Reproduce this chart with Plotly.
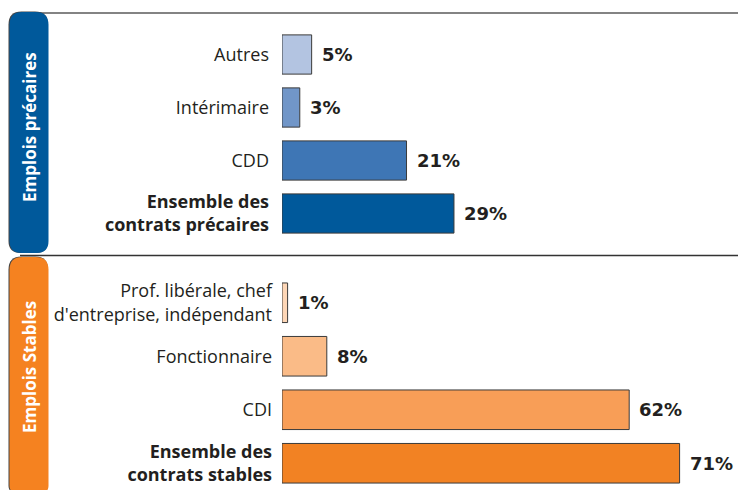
import plotly.graph_objects as go

W, H = 739, 490

prec_labels = ["Autres", "Intérimaire", "CDD", "<b>Ensemble des</b><br><b>contrats précaires</b>"]
prec_values = [5, 3, 21, 29]
prec_colors = ["#B3C4E1", "#7196C8", "#3E76B5", "#00599B"]

stab_labels = ["Prof. libérale, chef<br>d'entreprise, indépendant", "Fonctionnaire", "CDI",
               "<b>Ensemble des</b><br><b>contrats stables</b>"]
stab_values = [1, 8, 62, 71]
stab_colors = ["#FDD6B6", "#FABB87", "#F89E57", "#F28223"]

panel_titles = ["Emplois précaires", "Emplois Stables"]
panel_colors = ["#00599B", "#F58220"]

def px_x(p):
    return p / W

def px_y(p):
    return 1 - p / H

fig = go.Figure()

fig.add_trace(go.Bar(
    y=list(range(len(prec_values))), x=prec_values, orientation="h",
    marker=dict(color=prec_colors, line=dict(color="#3a3a3a", width=1)),
    width=0.74, xaxis="x", yaxis="y", hoverinfo="skip", showlegend=False))
fig.add_trace(go.Bar(
    y=list(range(len(stab_values))), x=stab_values, orientation="h",
    marker=dict(color=stab_colors, line=dict(color="#3a3a3a", width=1)),
    width=0.74, xaxis="x2", yaxis="y2", hoverinfo="skip", showlegend=False))

annotations = []
for i, v in enumerate(prec_values):
    annotations.append(dict(x=v, y=i, xref="x", yref="y", text=f"<b>{v}%</b>",
                            showarrow=False, xanchor="left", xshift=8,
                            font=dict(family="DejaVu Sans", size=18, color="#231F20")))
for i, v in enumerate(stab_values):
    annotations.append(dict(x=v, y=i, xref="x2", yref="y2", text=f"<b>{v}%</b>",
                            showarrow=False, xanchor="left", xshift=8,
                            font=dict(family="DejaVu Sans", size=18, color="#231F20")))

# panel titles (rotated)
title_centers = [(29, 127), (29, 367)]
for t, (cx, cy) in zip(panel_titles, title_centers):
    annotations.append(dict(x=px_x(cx), y=px_y(cy), xref="paper", yref="paper",
                            text=f"<b>{t}</b>", textangle=-90, showarrow=False,
                            font=dict(family="Open Sans", size=17, color="white"),
                            xanchor="center", yanchor="middle"))

def rrect(x0, y0, x1, y1, r, rb=None):
    rb = r if rb is None else rb
    X = lambda p: px_x(p)
    Y = lambda p: px_y(p)
    return (f"M {X(x0)},{Y(y0 + r)} Q {X(x0)},{Y(y0)} {X(x0 + r)},{Y(y0)} "
            f"L {X(x1 - r)},{Y(y0)} Q {X(x1)},{Y(y0)} {X(x1)},{Y(y0 + r)} "
            f"L {X(x1)},{Y(y1 - rb)} Q {X(x1)},{Y(y1)} {X(x1 - rb)},{Y(y1)} "
            f"L {X(x0 + rb)},{Y(y1)} Q {X(x0)},{Y(y1)} {X(x0)},{Y(y1 - rb)} Z")

shapes = []
# frame lines
shapes.append(dict(type="line", xref="paper", yref="paper", x0=px_x(30), x1=px_x(738),
                   y0=px_y(13), y1=px_y(13), line=dict(color="#5a5a5a", width=1.5)))
shapes.append(dict(type="line", xref="paper", yref="paper", x0=px_x(20), x1=px_x(738),
                   y0=px_y(255.5), y1=px_y(255.5), line=dict(color="#333333", width=1.5)))
# tabs with shadow
tabs = [(12, 253, 12), (257, 492, 6)]
for (y0, y1, rb), col in zip(tabs, panel_colors):
    shapes.append(dict(type="path", xref="paper", yref="paper",
                       path=rrect(8.5, y0 - 0.5, 48, y1, 13, rb),
                       fillcolor="#444444", line=dict(width=0)))
    shapes.append(dict(type="path", xref="paper", yref="paper",
                       path=rrect(9.5, y0, 48.5, y1, 13, rb),
                       fillcolor=col, line=dict(width=0)))

x_dom = [282 / W, 1]
tick_font = dict(family="Open Sans", size=18, color="#231F20")
fig.update_layout(
    width=W, height=H, margin=dict(l=0, r=0, t=0, b=0),
    paper_bgcolor="white", plot_bgcolor="rgba(0,0,0,0)",
    xaxis=dict(domain=x_dom, range=[0, (W - 282) / 5.93], visible=False, fixedrange=True),
    xaxis2=dict(domain=x_dom, range=[0, (W - 282) / 5.6], visible=False, fixedrange=True,
                anchor="y2"),
    yaxis=dict(domain=[px_y(240), px_y(28)], range=[3.5, -0.5], anchor="x",
               tickmode="array", tickvals=list(range(4)), ticktext=prec_labels,
               showgrid=False, zeroline=False, showline=False, ticks="",
               ticklabelstandoff=12, tickfont=tick_font, fixedrange=True),
    yaxis2=dict(domain=[px_y(490), px_y(276)], range=[3.5, -0.5], anchor="x2",
                tickmode="array", tickvals=list(range(4)), ticktext=stab_labels,
                showgrid=False, zeroline=False, showline=False, ticks="",
                ticklabelstandoff=9, tickfont=tick_font, fixedrange=True),
    annotations=annotations, shapes=shapes,
)

fig.write_html("out.html", config=dict(displayModeBar=False),
               post_script="document.body.style.margin='0';document.body.style.padding='0';")
